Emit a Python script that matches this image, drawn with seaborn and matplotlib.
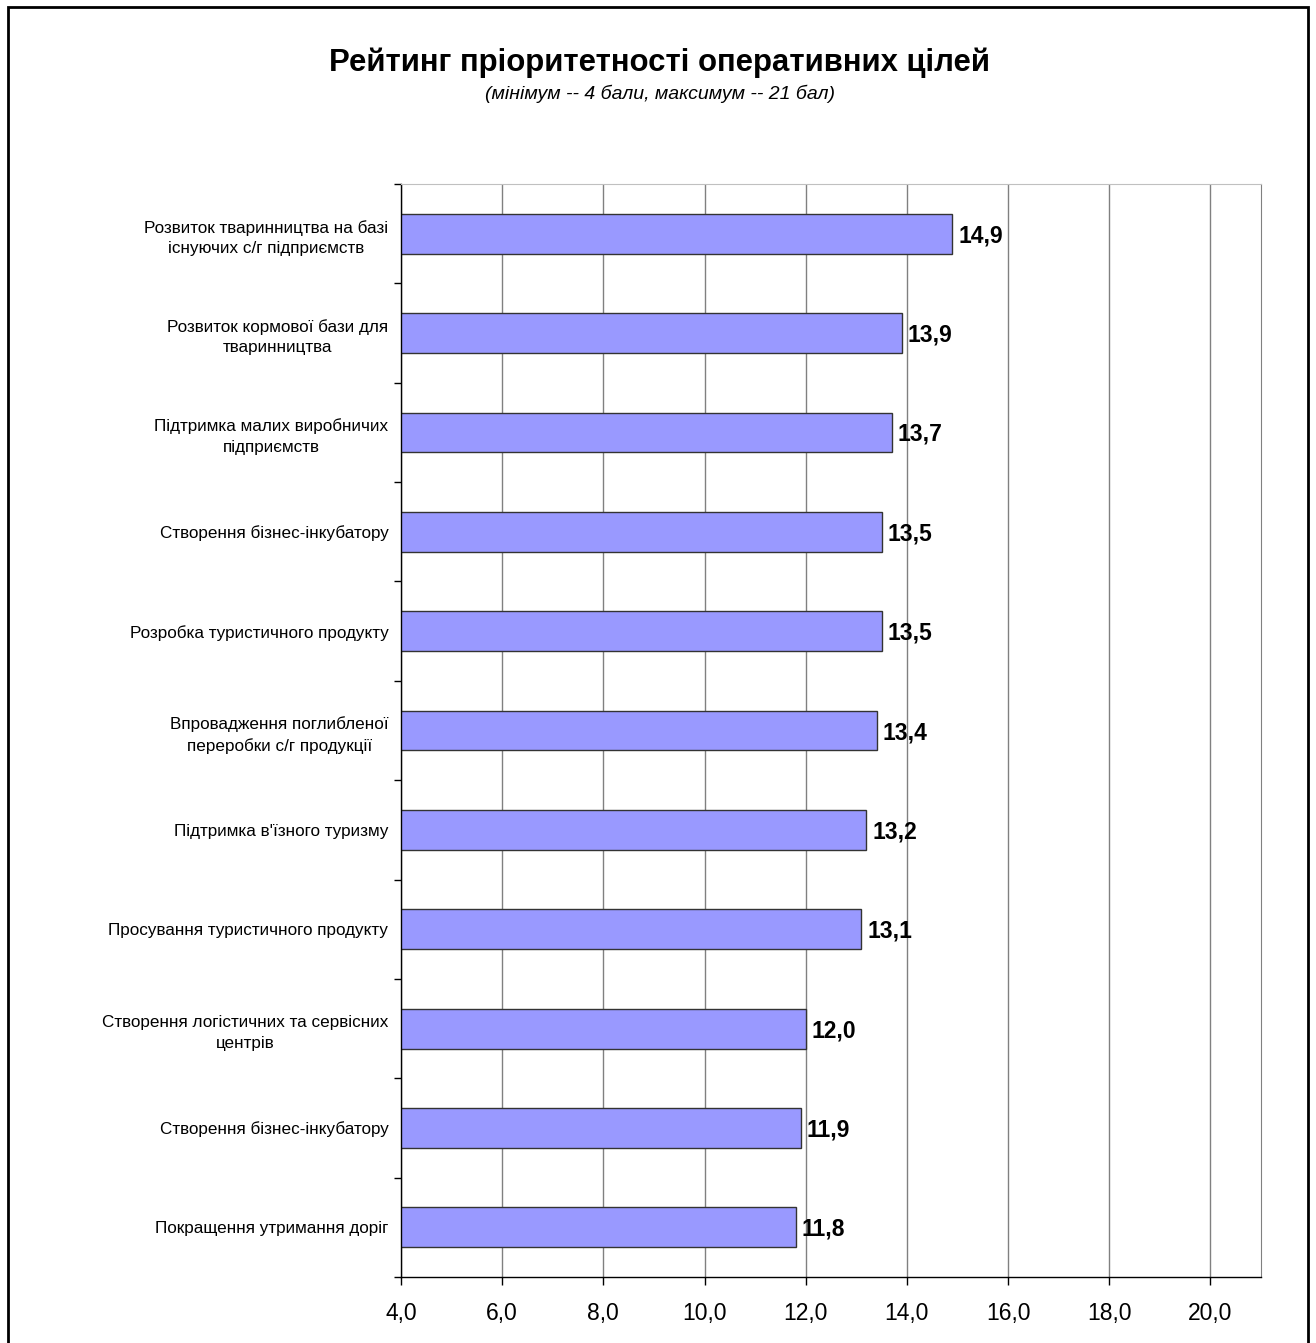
import pandas as pd
import matplotlib.pyplot as plt
import seaborn as sns
from matplotlib.patches import Rectangle
from matplotlib.ticker import FixedLocator

# Data
goals = [
    'Розвиток тваринництва на базі\nіснуючих с/г підприємств',
    'Розвиток кормової бази для\nтваринництва',
    'Підтримка малих виробничих\nпідприємств',
    'Створення бізнес-інкубатору',
    'Розробка туристичного продукту',
    'Впровадження поглибленої\nпереробки с/г продукції',
    'Підтримка в\'їзного туризму',
    'Просування туристичного продукту',
    'Створення логістичних та сервісних\nцентрів',
    'Створення бізнес-інкубатору',
    'Покращення утримання доріг',
]
scores = [14.9, 13.9, 13.7, 13.5, 13.5, 13.4, 13.2, 13.1, 12.0, 11.9, 11.8]
x_ticks = [4, 6, 8, 10, 12, 14, 16, 18, 20]

# goal names repeat, so plot against a row index
df = pd.DataFrame({'row': list(range(len(goals))), 'score': scores})

sns.set_style('white', {'xtick.bottom': True, 'ytick.left': True,
                        'text.color': 'black', 'xtick.color': 'black',
                        'ytick.color': 'black'})
plt.rcParams['font.family'] = ['Liberation Sans', 'DejaVu Sans']

fig = plt.figure(figsize=(13.16, 13.43), dpi=100)
ax = fig.add_axes([0.3047, 0.0491, 0.6535, 0.8139])

sns.barplot(data=df, x='score', y='row', orient='h', color='#9999FF',
            saturation=1, width=0.4, edgecolor='#333333', linewidth=1, ax=ax)

ax.set_xlim(4, 21)
ax.set_ylim(len(goals) - 0.5, -0.5)
ax.set_xticks(x_ticks)
ax.set_xticklabels([f'{t:.1f}'.replace('.', ',') for t in x_ticks], fontsize=16.5)
ax.set_yticks(range(len(goals)))
ax.set_yticklabels(goals, fontsize=12.3, ha='right', multialignment='center',
                   linespacing=1.45)
ax.tick_params(axis='y', which='major', length=0, pad=9)
ax.yaxis.set_minor_locator(FixedLocator([i - 0.5 for i in range(len(goals) + 1)]))
ax.tick_params(axis='y', which='minor', left=True, length=5, width=1, color='black')
ax.tick_params(axis='x', bottom=True, length=6, width=1, color='black', pad=12)
ax.set_xlabel('')
ax.set_ylabel('')

ax.grid(axis='x', color='#808080', linewidth=1)
ax.set_axisbelow(True)
for side in ['left', 'bottom']:
    ax.spines[side].set_color('black')
    ax.spines[side].set_linewidth(1)
ax.spines['right'].set_color('#808080')
ax.spines['top'].set_color('#c0c0c0')

for i, v in enumerate(scores):
    ax.text(v + 0.12, i + 0.02, f'{v:.1f}'.replace('.', ','), va='center', ha='left',
            fontsize=16.5, fontweight='bold', color='black')

fig.text(0.5015, 1 - 71 / 1343, 'Рейтинг пріоритетності оперативних цілей',
         ha='center', va='baseline', fontsize=22.4, fontweight='bold', color='black')
fig.text(0.5015, 1 - 99 / 1343, '(мінімум -- 4 бали, максимум -- 21 бал)',
         ha='center', va='baseline', fontsize=14, style='italic', color='black')

fig.patches.append(Rectangle((8 / 1316, -0.02), 1300 / 1316, 1 - 7 / 1343 + 0.02,
                             transform=fig.transFigure, fill=False,
                             edgecolor='black', linewidth=2))

fig.savefig('out.png', dpi=100)
